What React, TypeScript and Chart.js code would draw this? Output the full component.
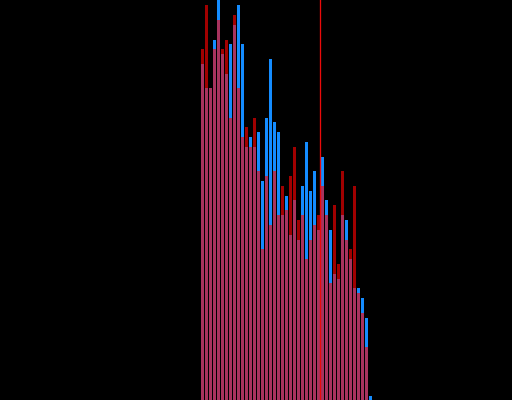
import React, { useEffect, useRef } from "react";
import { Chart, registerables } from "chart.js";

Chart.register(...registerables);

const bins = [
  0, 1, 2, 3, 4, 5, 6, 7, 8, 9, 10, 11, 12, 13, 14, 15, 16, 17, 18, 19, 20, 21,
  22, 23, 24, 25, 26, 27, 28, 29, 30, 31, 32, 33, 34, 35, 36, 37, 38, 39, 40, 41, 42,
];

const blueCounts = [
  336, 312, 312, 360, 410, 346, 326, 356, 375, 395, 356, 253, 263, 253, 268, 219, 282,
  341, 278, 268, 185, 204, 165, 200, 160, 214, 258, 209, 229, 170, 243, 200, 170, 126,
  121, 185, 180, 141, 112, 112, 102, 82, 4,
];

const redCounts = [
  351, 395, 312, 351, 380, 351, 360, 282, 385, 312, 263, 273, 253, 282, 229, 151, 224,
  175, 229, 185, 214, 190, 224, 253, 180, 185, 141, 160, 175, 185, 214, 185, 117, 195,
  136, 229, 160, 151, 214, 107, 87, 53, 0,
];

const markerValue = 29.5;
const xRange = [-50.625, 77.375];
const yRange = [0, 400];

export default function App() {
  const ref = useRef<HTMLCanvasElement | null>(null);

  useEffect(() => {
    document.body.style.margin = "0";
    document.body.style.background = "#000";
    const canvas = ref.current;
    if (!canvas) return;

    const markerLine = {
      id: "markerLine",
      afterDatasetsDraw(chart: any) {
        const { ctx, chartArea, scales } = chart;
        const x = scales.x.getPixelForValue(markerValue);
        ctx.save();
        ctx.strokeStyle = "rgb(235,10,10)";
        ctx.lineWidth = 1.3;
        ctx.beginPath();
        ctx.moveTo(x, chartArea.top);
        ctx.lineTo(x, chartArea.bottom);
        ctx.stroke();
        ctx.restore();
      },
    };

    const chart = new Chart(canvas, {
      type: "bar",
      data: {
        datasets: [
          {
            label: "red",
            data: bins.map((b, i) => ({ x: b, y: redCounts[i] })),
            backgroundColor: "rgba(255,0,0,0.63)",
            borderWidth: 0,
            inflateAmount: 0,
            barThickness: 3,
            grouped: false,
            order: 0,
          } as any,
          {
            label: "blue",
            data: bins.map((b, i) => ({ x: b, y: blueCounts[i] })),
            backgroundColor: "rgb(20,140,255)",
            borderWidth: 0,
            inflateAmount: 0,
            barThickness: 3,
            grouped: false,
            order: 1,
          } as any,
        ],
      },
      options: {
        animation: false,
        responsive: false,
        maintainAspectRatio: false,
        layout: { padding: 0 },
        plugins: {
          legend: { display: false },
          tooltip: { enabled: false },
          title: { display: false },
        },
        scales: {
          x: {
            type: "linear",
            display: false,
            min: xRange[0],
            max: xRange[1],
            offset: false,
          },
          y: {
            display: false,
            min: yRange[0],
            max: yRange[1],
          },
        },
      },
      plugins: [markerLine],
    });

    return () => chart.destroy();
  }, []);

  return (
    <div
      style={{
        position: "fixed",
        left: 0,
        top: 0,
        width: 512,
        height: 400,
        background: "#000",
      }}
    >
      <canvas ref={ref} width={512} height={400} style={{ display: "block", width: 512, height: 400 }} />
    </div>
  );
}
